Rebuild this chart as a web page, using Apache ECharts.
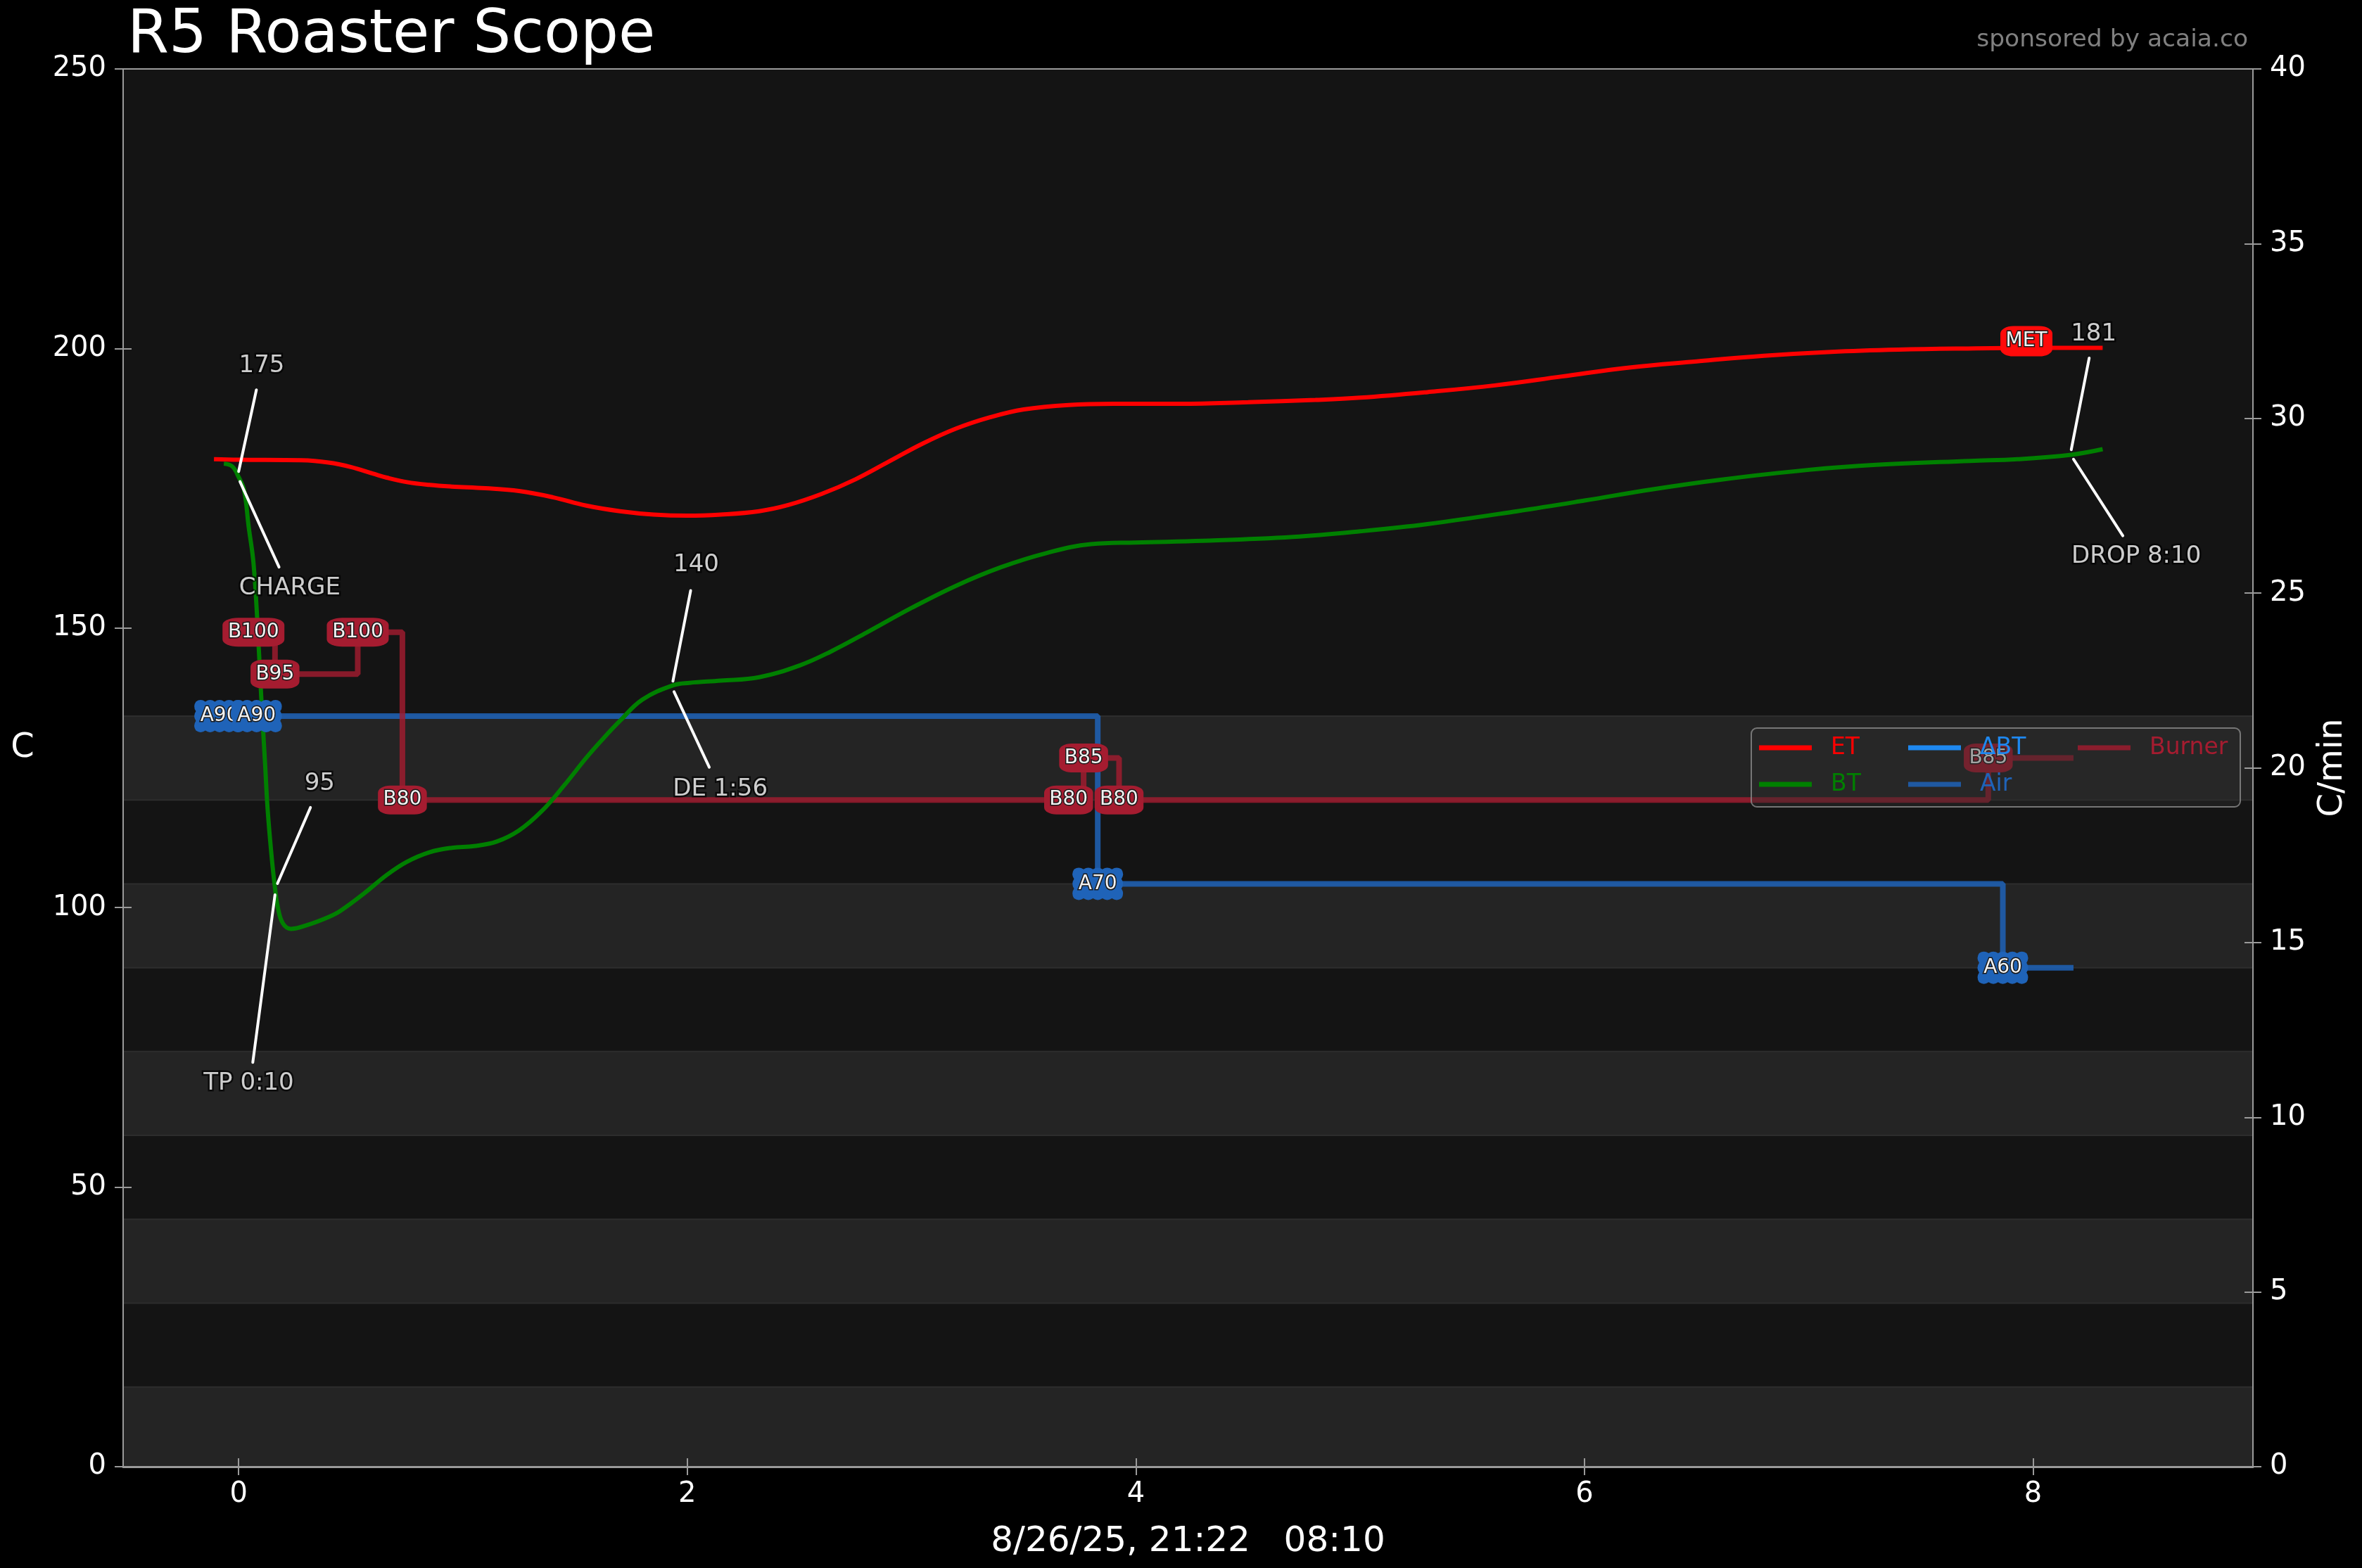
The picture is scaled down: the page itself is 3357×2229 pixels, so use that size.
<!DOCTYPE html>
<html style="height: 100%">

<head>
	<meta charset="utf-8">
</head>

<body style="height: 100%; margin: 0; background: #000">
	<div id="container" style="width: 3357px; height: 2229px;"></div>
	<script type="text/javascript" src="https://cdn.jsdelivr.net/npm/echarts@6/dist/echarts.min.js"></script>
	<script type="text/javascript">
		// --- roast curves (time in minutes, temp in C) ---
		let etTime = [-0.11, 0.0, 0.28, 0.40, 0.50, 0.60, 0.66, 0.75, 0.85, 0.95, 1.10, 1.25, 1.40, 1.55, 1.70, 1.85, 2.00, 2.15, 2.32, 2.45, 2.60, 2.75, 2.90, 3.05, 3.20, 3.35, 3.50, 3.70, 3.90, 4.20, 4.50, 4.80, 5.00, 5.30, 5.60, 5.90, 6.20, 6.50, 6.80, 7.10, 7.40, 7.70, 8.00, 8.31];
		let etTemp = [180.2, 180.1, 180.0, 179.6, 178.8, 177.6, 176.9, 176.1, 175.6, 175.3, 175.0, 174.5, 173.4, 171.9, 170.9, 170.3, 170.1, 170.3, 170.9, 172.0, 174.0, 176.6, 179.8, 183.0, 185.7, 187.7, 189.1, 189.9, 190.1, 190.1, 190.4, 190.8, 191.2, 192.2, 193.4, 195.0, 196.6, 197.7, 198.7, 199.4, 199.8, 200.0, 200.1, 200.1];
		let btTime = [-0.066, -0.028, 0.0, 0.024, 0.045, 0.066, 0.085, 0.10, 0.118, 0.129, 0.145, 0.160, 0.175, 0.197, 0.233, 0.307, 0.40, 0.453, 0.558, 0.662, 0.75, 0.85, 0.95, 1.05, 1.15, 1.25, 1.35, 1.45, 1.55, 1.62, 1.70, 1.80, 1.94, 2.01, 2.15, 2.32, 2.50, 2.64, 2.80, 3.00, 3.20, 3.40, 3.60, 3.80, 4.00, 4.30, 4.70, 5.00, 5.30, 5.70, 6.00, 6.30, 6.60, 7.00, 7.30, 7.72, 7.93, 8.17, 8.31];
		let btTemp = [179.4, 178.9, 177.0, 174.7, 168.0, 161.7, 150.0, 138.2, 125.6, 117.7, 110.0, 104.2, 100.0, 97.2, 96.2, 96.9, 98.3, 99.4, 102.5, 105.9, 108.2, 109.9, 110.7, 111.0, 111.8, 113.8, 117.2, 121.8, 126.8, 130.0, 133.4, 137.2, 139.8, 140.2, 140.6, 141.2, 143.3, 145.8, 149.2, 153.6, 157.6, 160.9, 163.4, 165.0, 165.3, 165.6, 166.3, 167.3, 168.6, 170.9, 172.8, 174.8, 176.5, 178.3, 179.2, 179.9, 180.2, 181.0, 182.0];
		let deltaBT = []; // no RoR trace drawn in this roast

		// --- slider events (value 0-100) ---
		let burnerTime = [0.066, 0.162, 0.531, 0.73, 3.70, 3.767, 3.925, 7.80, 8.18];
		let burnerValue = [100, 95, 100, 80, 80, 85, 80, 85, 85];
		let airTime = [-0.085, 0.08, 3.83, 7.865, 8.18];
		let airValue = [90, 90, 70, 60, 60];
		let bandValues = [[0, 10], [20, 30], [40, 50], [60, 70], [80, 90]];

		// --- annotations ---
		let metPoint = [7.97, 201.3];
		let annoNames = ['175', 'CHARGE', '95', 'TP 0:10', '140', 'DE 1:56', '181', 'DROP 8:10'];
		let annoPos = [[0.103, 196.9], [0.228, 157.1], [0.361, 122.1], [0.045, 68.6], [2.04, 161.3], [2.147, 121.1], [8.27, 202.6], [8.46, 162.8]];
		let leaderLines = [
			[[0.079, 192.6], [0.0, 178.0]], [[0.006, 176.2], [0.18, 160.9]],
			[[0.32, 117.9], [0.173, 104.3]], [[0.162, 102.3], [0.063, 72.3]],
			[[2.015, 156.7], [1.936, 140.5]], [[1.941, 138.6], [2.098, 125.1]],
			[[8.25, 198.3], [8.17, 181.9]], [[8.18, 180.2], [8.40, 166.5]]
		];

		let xTicks = [0, 2, 4, 6, 8];

		const FONT = 'DejaVu Sans';
		const AXIS_GREY = '#9a9a9a';

		function zip(a, b) {
			let out = [];
			for (let i = 0; i < a.length; i++) out.push([a[i], b[i]]);
			return out;
		}

		// scalloped box like matplotlib roundtooth
		function toothPath(nx, ny) {
			let W = 100, H = 60, d = 7;
			let dx = W / nx, dy = H / ny;
			let p = 'M0 0';
			for (let i = 0; i < nx; i++) p += ' Q' + (i * dx + dx / 2) + ' ' + (-d) + ' ' + ((i + 1) * dx) + ' 0';
			for (let i = 0; i < ny; i++) p += ' Q' + (W + d) + ' ' + (i * dy + dy / 2) + ' ' + W + ' ' + ((i + 1) * dy);
			for (let i = nx; i > 0; i--) p += ' Q' + (i * dx - dx / 2) + ' ' + (H + d) + ' ' + ((i - 1) * dx) + ' ' + H;
			for (let i = ny; i > 0; i--) p += ' Q' + (-d) + ' ' + (i * dy - dy / 2) + ' 0 ' + ((i - 1) * dy);
			return 'path://' + p + ' Z';
		}

		let labelText = {
			show: true,
			position: 'inside',
			formatter: '{b}',
			color: '#f2f2f2',
			fontSize: 28,
			fontFamily: FONT,
			textBorderColor: '#1a1a1a',
			textBorderWidth: 3
		};

		let burnerLabels = [];
		for (let i = 0; i < burnerTime.length - 1; i++) {
			burnerLabels.push({ name: 'B' + burnerValue[i], value: [burnerTime[i], burnerValue[i]] });
		}
		let annoData = [];
		for (let i = 0; i < annoNames.length; i++) {
			annoData.push({ name: annoNames[i], value: annoPos[i] });
		}

		let dom = document.getElementById("container");
		let myChart = echarts.init(dom, null, { renderer: 'canvas' });

		let tickStyle = { color: AXIS_GREY, width: 2 };
		let tickLabel = { color: '#ffffff', fontSize: 40, fontFamily: FONT };

		let legendCommon = {
			orient: 'vertical',
			top: 1043,
			padding: 0,
			icon: 'rect',
			itemWidth: 75,
			itemHeight: 7,
			itemGap: 12,
			selectedMode: false,
			z: 20,
			textStyle: { fontSize: 33, fontFamily: FONT, lineHeight: 40, padding: [0, 0, 0, 22] }
		};

		let seriesList = [
			{
				name: 'bands', type: 'line', yAxisIndex: 2, data: [], z: 1, silent: true,
				markArea: {
					silent: true,
					itemStyle: { color: '#242424', borderColor: '#2d2d2d', borderWidth: 2 },
					data: bandValues.map(b => [{ yAxis: b[0] }, { yAxis: b[1] }])
				}
			},
			{
				name: 'Air', type: 'line', step: 'end', yAxisIndex: 2, z: 2,
				showSymbol: false, color: 'rgba(31,99,184,0.85)',
				lineStyle: { width: 8, color: 'rgba(31,99,184,0.85)' },
				data: zip(airTime, airValue)
			},
			{
				name: 'Burner', type: 'line', step: 'end', yAxisIndex: 2, z: 2,
				showSymbol: false, color: 'rgba(165,28,48,0.8)',
				lineStyle: { width: 8, color: 'rgba(165,28,48,0.8)' },
				data: zip(burnerTime, burnerValue)
			},
			{
				name: 'ET', type: 'line', yAxisIndex: 0, z: 3,
				showSymbol: false, smooth: 0.4, color: '#ff0000',
				lineStyle: { width: 6, color: '#ff0000' },
				data: zip(etTime, etTemp)
			},
			{
				name: 'BT', type: 'line', yAxisIndex: 0, z: 3,
				showSymbol: false, smooth: 0.4, color: '#008000',
				lineStyle: { width: 6, color: '#008000' },
				data: zip(btTime, btTemp)
			},
			{
				name: 'ΔBT', type: 'line', yAxisIndex: 1, z: 3,
				showSymbol: false, color: '#1e88f0',
				lineStyle: { width: 4, color: '#1e88f0' },
				data: deltaBT
			},
			{
				name: 'leaders', type: 'line', yAxisIndex: 0, data: [], z: 6, silent: true,
				markLine: {
					silent: true,
					symbol: ['none', 'none'],
					label: { show: false },
					lineStyle: { color: '#ffffff', width: 4, type: 'solid', cap: 'round' },
					data: leaderLines.map(l => [{ coord: l[0] }, { coord: l[1] }])
				}
			},
			{
				name: 'burnerLabels', type: 'scatter', yAxisIndex: 2, z: 7,
				symbol: 'roundRect',
				symbolSize: function (val, p) { return [14 + 18.5 * p.name.length, 41]; },
				itemStyle: { color: '#a51c30', opacity: 1 },
				label: labelText,
				data: burnerLabels
			},
			{
				name: 'metLabel', type: 'scatter', yAxisIndex: 0, z: 7,
				symbol: 'roundRect', symbolSize: [74, 43],
				itemStyle: { color: '#ff0a0a', opacity: 1 },
				label: labelText,
				data: [{ name: 'MET', value: metPoint }]
			},
			{
				name: 'annotations', type: 'scatter', yAxisIndex: 0, z: 9,
				symbolSize: 1,
				itemStyle: { color: 'rgba(0,0,0,0)' },
				label: {
					show: true, position: 'inside', formatter: '{b}',
					color: '#ffffff', fontSize: 34, fontFamily: FONT,
					textBorderColor: 'rgba(0,0,0,0.85)', textBorderWidth: 5
				},
				data: annoData
			}
		];

		// one series per air label so a later box covers an earlier label's text
		for (let i = 0; i < airTime.length - 1; i++) {
			seriesList.push({
				name: 'airLabel' + i, type: 'scatter', yAxisIndex: 2, z: 7 + i * 0.1,
				symbol: toothPath(5, 3), symbolSize: [72, 46],
				itemStyle: { color: '#1f63b8', opacity: 1 },
				label: labelText,
				data: [{ name: 'A' + airValue[i], value: [airTime[i], airValue[i]] }]
			});
		}

		let option = {
			animation: false,
			backgroundColor: '#000000',
			title: [
				{
					text: 'R5 Roaster Scope', left: 176, top: 4,
					textStyle: { color: '#ffffff', fontSize: 85, fontWeight: 'normal', fontFamily: FONT }
				},
				{
					text: 'sponsored by acaia.co', right: 157, top: 35,
					textStyle: { color: '#808080', fontSize: 34.5, fontWeight: 'normal', fontFamily: FONT }
				}
			],
			grid: {
				left: 175, right: 155, top: 98, bottom: 144,
				show: true,
				backgroundColor: '#141414',
				borderColor: AXIS_GREY,
				borderWidth: 2
			},
			legend: [
				Object.assign({}, legendCommon, {
					left: 2500,
					data: [{ name: 'ET', textStyle: { color: '#ff0000' } }, { name: 'BT', textStyle: { color: '#008000' } }]
				}),
				Object.assign({}, legendCommon, {
					left: 2712,
					data: [{ name: 'ΔBT', textStyle: { color: '#1e88f0' } }, { name: 'Air', textStyle: { color: '#1f63b8' } }]
				}),
				Object.assign({}, legendCommon, {
					left: 2953,
					data: [{ name: 'Burner', textStyle: { color: '#a51c30' } }]
				})
			],
			graphic: [
				{
					type: 'rect', z: 15,
					shape: { x: 2489, y: 1035, width: 695, height: 112, r: 8 },
					style: { fill: 'rgba(45,45,45,0.4)', stroke: 'rgba(140,140,140,0.8)', lineWidth: 2 }
				},
				{
					// left axis title, sits a little above centre as in the original
					type: 'text', z: 20,
					style: {
						text: 'C', x: 32, y: 1064,
						fill: '#ffffff', font: '48px "DejaVu Sans"',
						align: 'center', verticalAlign: 'middle',
						textAlign: 'center', textVerticalAlign: 'middle'
					}
				}
			],
			xAxis: [
				{
					type: 'value', min: -0.515, max: 8.98, position: 'bottom', z: 5,
					name: '8/26/25, 21:22   08:10', nameLocation: 'middle', nameGap: 82,
					nameTextStyle: { color: '#ffffff', fontSize: 50, fontFamily: FONT },
					axisLine: { show: true, onZero: false, lineStyle: { color: AXIS_GREY, width: 3 } },
					axisTick: { show: true, length: 12, customValues: xTicks, lineStyle: tickStyle },
					axisLabel: Object.assign({ margin: 20, customValues: xTicks }, tickLabel),
					splitLine: { show: false }
				},
				{
					type: 'value', min: -0.515, max: 8.98, position: 'bottom', z: 5,
					axisLine: { show: false, onZero: false },
					axisTick: { show: true, inside: true, length: 12, customValues: xTicks, lineStyle: tickStyle },
					axisLabel: { show: false },
					splitLine: { show: false }
				}
			],
			yAxis: [
				{
					type: 'value', min: 0, max: 250, interval: 50, position: 'left', z: 5,
					axisLine: { show: true, onZero: false, lineStyle: { color: AXIS_GREY, width: 2 } },
					axisTick: { show: true, length: 12, lineStyle: tickStyle },
					axisLabel: Object.assign({ margin: 24, showMinLabel: true, showMaxLabel: true }, tickLabel),
					splitLine: { show: false }
				},
				{
					type: 'value', min: 0, max: 40, interval: 5, position: 'right', z: 5,
					name: 'C/min', nameLocation: 'middle', nameRotate: 90, nameGap: 90,
					nameTextStyle: { color: '#ffffff', fontSize: 48, fontFamily: FONT },
					axisLine: { show: true, onZero: false, lineStyle: { color: AXIS_GREY, width: 2 } },
					axisTick: { show: true, length: 12, lineStyle: tickStyle },
					axisLabel: Object.assign({ margin: 24, showMinLabel: true, showMaxLabel: true }, tickLabel),
					splitLine: { show: false }
				},
				{
					// slider event scale: value v sits at 1.5*v - 0.75 C
					type: 'value', min: 0.5, max: 167.1667, show: false, position: 'left',
					axisLine: { onZero: false },
					splitLine: { show: false }
				},
				{
					type: 'value', min: 0, max: 250, interval: 50, position: 'left', z: 5,
					axisLine: { show: false, onZero: false },
					axisTick: { show: true, inside: true, length: 12, lineStyle: tickStyle },
					axisLabel: { show: false },
					splitLine: { show: false }
				},
				{
					type: 'value', min: 0, max: 40, interval: 5, position: 'right', z: 5,
					axisLine: { show: false, onZero: false },
					axisTick: { show: true, inside: true, length: 12, lineStyle: tickStyle },
					axisLabel: { show: false },
					splitLine: { show: false }
				}
			],
			series: seriesList
		};

		myChart.setOption(option);
	</script>
</body>
</html>
